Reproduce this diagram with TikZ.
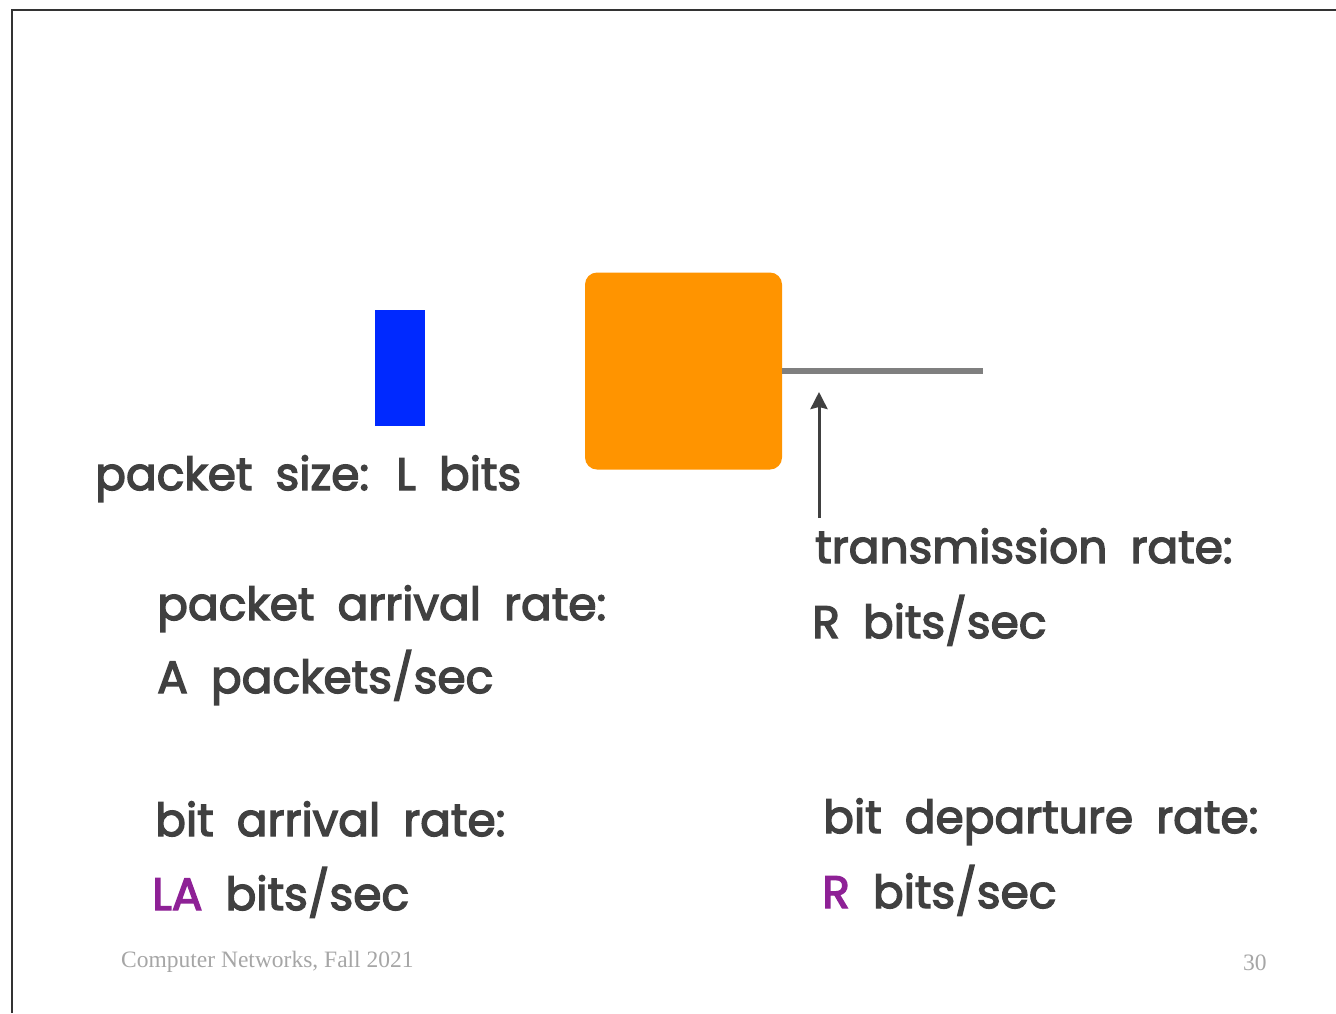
\documentclass[tikz,border=0pt]{standalone}
\usepackage{fontspec}
\setmainfont{Poppins}
\newfontfamily\lblfont{Poppins}[RawFeature={embolden=3}, WordSpace=1.9]
\newfontfamily\footfont{Liberation Serif}
\usetikzlibrary{arrows.meta}
\definecolor{txt}{HTML}{404040}
\definecolor{purp}{HTML}{8E2196}
\definecolor{orng}{HTML}{FF9400}
\definecolor{blu}{HTML}{0029FF}
\definecolor{linkgray}{HTML}{7F7F7F}
\definecolor{foot}{HTML}{A6A6A6}
\definecolor{frame}{HTML}{333333}
\tikzset{
  lbl/.style={anchor=base west, inner sep=0pt, text=txt, font=\lblfont\fontsize{45.5}{54}\selectfont},
  ftr/.style={anchor=base west, inner sep=0pt, text=foot, font=\footfont\fontsize{23.5}{28}\selectfont},
}
\begin{document}
\begin{tikzpicture}[x=1pt,y=-1pt]
\useasboundingbox (0,0) rectangle (1336,1013);
\fill[white] (0,0) rectangle (1336,1013);
\draw[frame, line width=2pt] (12,1013) -- (12,10) -- (1336,10);
% packet
\node[fill=blu, minimum width=50pt, minimum height=116pt, inner sep=0pt] (pkt) at (400,368) {};
% server
\node[fill=orng, rounded corners=12pt, minimum width=197pt, minimum height=197pt, inner sep=0pt] (server) at (683.5,371) {};
\coordinate (linkend) at (983,371);
\draw[linkgray, line width=6pt] (server.east) -- (server.east -| linkend);
% labels
\node[lbl] (psize) at (95,490) {packet size: L bits};
\node[lbl] (parr1) at (157,620) {packet arrival rate:};
\node[lbl] (parr2) at (157,693) {A packets/sec};
\node[lbl] (barr1) at (155,836) {bit arrival rate:};
\node[lbl] (barr2) at (152,910) {\textcolor{purp}{LA} bits/sec};
\node[lbl] (trate1) at (815,563) {transmission rate:};
\node[lbl] (trate2) at (812,638) {R bits/sec};
\node[lbl] (bdep1) at (823,833) {bit departure rate:};
\node[lbl] (bdep2) at (822,908) {\textcolor{purp}{R} bits/sec};
% arrow
\coordinate (arrbase) at (819,518);
\coordinate (arrtip) at (819,392);
\draw[txt, line width=3pt, -{Stealth[length=17pt, width=17pt, inset=2pt]}] (arrbase) -- (arrtip);
% footer
\node[ftr] (fl) at (121,967) {Computer Networks, Fall 2021};
\node[ftr] (fr) at (1243,970) {30};
\end{tikzpicture}
\end{document}
